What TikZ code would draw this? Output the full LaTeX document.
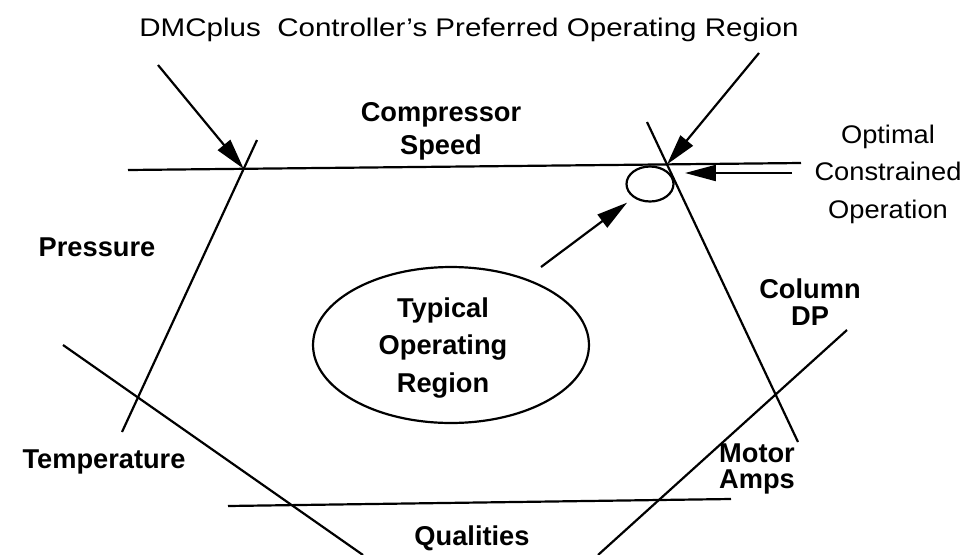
\documentclass[tikz,border=0pt]{standalone}
\usepackage{fontspec}
\setmainfont{Liberation Sans}
\usetikzlibrary{arrows.meta,shapes.geometric}

\tikzset{
  bound/.style={line width=1.25pt},
  pointer/.style={line width=1.25pt, -{Triangle[length=0.62cm,width=0.32cm]}},
  boldlabel/.style={font=\bfseries\fontsize{15.5}{#1}\selectfont, align=center, inner sep=0pt},
  boldlabel/.default=18.7,
  plainlabel/.style={font=\fontsize{14.5}{21.3}\selectfont, align=center, inner sep=0pt}
}

\begin{document}
\begin{tikzpicture}[x=0.02cm, y=-0.02cm]
  \useasboundingbox[fill=white] (0,0) rectangle (968,555);

  % Constraint lines
  \coordinate (speedL) at (128,170);
  \coordinate (speedR) at (801,163);
  \coordinate (pressT) at (257,140);
  \coordinate (pressB) at (122,432);
  \coordinate (tempT) at (63,345);
  \coordinate (tempB) at (363,555);
  \coordinate (qualL) at (228,506);
  \coordinate (qualR) at (731,499);
  \coordinate (columnT) at (847,330);
  \coordinate (columnB) at (598,555);
  \coordinate (motorT) at (647,122);
  \coordinate (motorB) at (798,442);
  \draw[bound] (speedL) -- (speedR);
  \draw[bound] (pressT) -- (pressB);
  \draw[bound] (tempT) -- (tempB);
  \draw[bound] (qualL) -- (qualR);
  \draw[bound] (columnT) -- (columnB);
  \draw[bound] (motorT) -- (motorB);

  % Operating regions
  \node[bound, draw, ellipse, minimum width=5.52cm, minimum height=3.12cm] (typical) at (451,345) {};
  \node[bound, draw, ellipse, minimum width=0.94cm, minimum height=0.7cm, inner sep=0pt] (optimum) at (650,184) {};

  % Labels
  \node[plainlabel, anchor=base, xscale=1.16] (title) at (469,36) {DMCplus\ \ Controller's Preferred Operating Region};
  \node[plainlabel, xscale=1.07] (optimal) at (888,174) {Optimal\\Constrained\\Operation};
  \node[boldlabel] (speed) at (441,131) {Compressor\\Speed};
  \node[boldlabel, anchor=base] (pressure) at (97,256) {Pressure};
  \node[boldlabel, anchor=base] (temperature) at (104,468) {Temperature};
  \node[boldlabel, anchor=base] (qualities) at (472,545) {Qualities};
  \node[boldlabel=15.3] (column) at (810,302) {Column\\DP};
  \node[boldlabel=15] (motor) at (757,469) {Motor\\Amps};
  \node[boldlabel=21.5] (typlabel) at (443,348) {Typical\\Operating\\Region};

  % Arrows
  \coordinate (leftfrom) at (158,65);
  \coordinate (rightfrom) at (759,53);
  \coordinate (opfrom) at (792,173);
  \coordinate (optip) at (685,173);
  \coordinate (typfrom) at (541,267);
  \draw[pointer] (leftfrom) -- (intersection of speedL--speedR and pressT--pressB);
  \draw[pointer] (rightfrom) -- (intersection of speedL--speedR and motorT--motorB);
  \draw[pointer] (opfrom) -- (optip);
  \draw[pointer, shorten >=0.16cm] (typfrom) -- (optimum.220);
\end{tikzpicture}
\end{document}
